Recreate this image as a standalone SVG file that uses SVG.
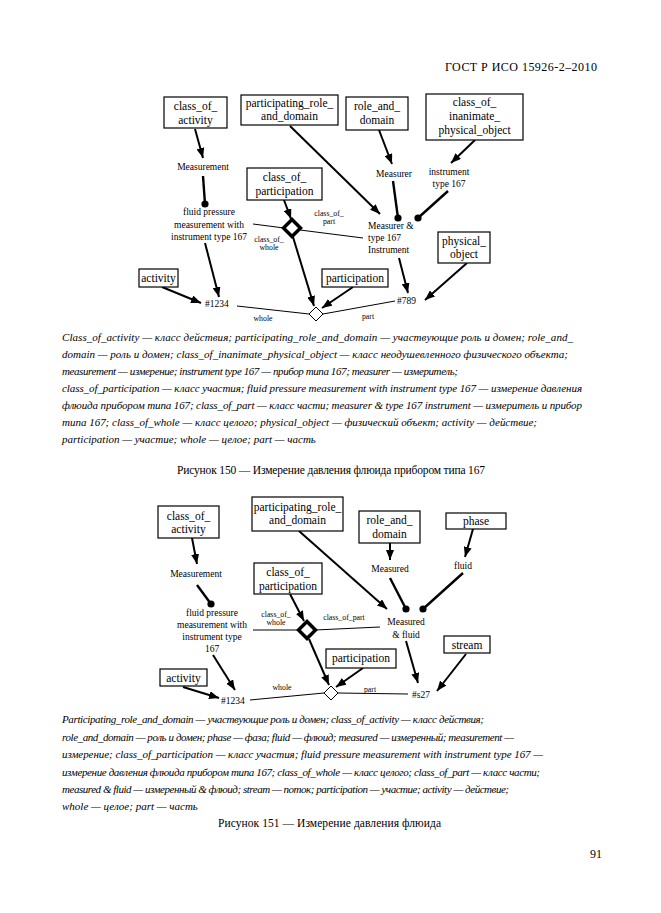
<svg xmlns="http://www.w3.org/2000/svg" width="661" height="913" viewBox="0 0 661 913">
<style>
text{font-family:"Liberation Serif","Times New Roman",serif;fill:#000}
.bt{font-size:11.5px;text-anchor:middle}
.nt{font-size:9.5px;text-anchor:middle}
.nl{font-size:9.5px}
.sm{font-size:7.8px;text-anchor:middle}
.cap{font-size:11px;font-style:italic}
.fig{font-size:11.5px}
.box{fill:#fff;stroke:#000;stroke-width:1.2}
.ar{stroke:#000;stroke-width:2;fill:none;marker-end:url(#ah)}
.dl{stroke:#000;stroke-width:2.4;fill:none}
.th{stroke:#000;stroke-width:1;fill:none}
.bd{fill:#fff;stroke:#000;stroke-width:3.5}
.sd{fill:#fff;stroke:#000;stroke-width:1}
</style>
<defs>
<marker id="ah" markerUnits="userSpaceOnUse" markerWidth="10" markerHeight="8" refX="10" refY="4" orient="auto">
<path d="M0,0 L10,4 L0,8 z" fill="#000"/>
</marker>
</defs>
<rect width="661" height="913" fill="#fff"/>
<text x="445" y="71" font-size="12" textLength="152">ГОСТ Р ИСО 15926-2–2010</text>

<!-- Figure 150 -->
<g id="f1-connectors">
<line class="ar" x1="195" y1="129" x2="203" y2="158"/>
<line class="dl" x1="203" y1="176" x2="205" y2="204"/><circle cx="205" cy="204" r="3.6"/>
<line class="ar" x1="290" y1="126" x2="380" y2="214"/>
<line class="ar" x1="379" y1="130" x2="392" y2="164"/>
<line class="dl" x1="393" y1="181" x2="398" y2="218"/><circle cx="398" cy="218" r="3.6"/>
<line class="ar" x1="475" y1="140" x2="451" y2="163"/>
<line class="dl" x1="448" y1="191" x2="418" y2="218"/><circle cx="418" cy="218" r="3.6"/>
<line class="ar" x1="284" y1="200" x2="291" y2="219"/>
<line class="ar" x1="293" y1="237" x2="314" y2="306"/>
<line class="th" x1="253" y1="224" x2="284" y2="228"/>
<line class="th" x1="300" y1="230" x2="363" y2="238"/>
<line class="ar" x1="205" y1="243" x2="219" y2="297"/>
<line class="ar" x1="162" y1="287" x2="201" y2="303"/>
<line class="th" x1="237" y1="306" x2="309" y2="314"/>
<line class="ar" x1="353" y1="287" x2="322" y2="308"/>
<line class="ar" x1="399" y1="258" x2="408" y2="293"/>
<line class="ar" x1="467" y1="263" x2="425" y2="300"/>
<line class="th" x1="323" y1="314" x2="395" y2="301"/>
</g>
<g id="f1-coa"><rect class="box" x="164" y="97" width="63" height="31"/><text class="bt" x="195.5" y="110">class_of_</text><text class="bt" x="195.5" y="124">activity</text></g>
<g id="f1-prd"><rect class="box" x="241" y="95" width="97" height="30"/><text class="bt" x="289.5" y="107">participating_role_</text><text class="bt" x="289.5" y="120">and_domain</text></g>
<g id="f1-rad"><rect class="box" x="346" y="97" width="62" height="33"/><text class="bt" x="377" y="110">role_and_</text><text class="bt" x="377" y="124">domain</text></g>
<g id="f1-coipo"><rect class="box" x="426" y="94" width="97" height="46"/><text class="bt" x="474.5" y="106">class_of_</text><text class="bt" x="474.5" y="120">inanimate_</text><text class="bt" x="474.5" y="134">physical_object</text></g>
<g id="f1-measurement"><text class="nt" x="203" y="170">Measurement</text></g>
<g id="f1-cop"><rect class="box" x="247" y="168" width="75" height="32"/><text class="bt" x="284.5" y="181">class_of_</text><text class="bt" x="284.5" y="195">participation</text></g>
<g id="f1-measurer"><text class="nt" x="394" y="177">Measurer</text></g>
<g id="f1-instr"><text class="nt" x="449" y="175">instrument</text><text class="nt" x="449" y="187">type 167</text></g>
<g id="f1-fpm"><text class="nt" x="209" y="215">fluid pressure</text><text class="nt" x="209" y="228">measurement with</text><text class="nt" x="209" y="240">instrument type 167</text></g>
<g id="f1-cowp"><rect class="bd" x="286" y="222" width="12" height="12" transform="rotate(45 292 228)"/><text class="sm" x="329" y="216">class_of_</text><text class="sm" x="329" y="224">part</text><text class="sm" x="269" y="242">class_of_</text><text class="sm" x="269" y="250">whole</text></g>
<g id="f1-mti"><text class="nl" x="368" y="229">Measurer &amp;</text><text class="nl" x="368" y="241">type 167</text><text class="nl" x="368" y="253">Instrument</text></g>
<g id="f1-po"><rect class="box" x="438" y="232" width="52" height="31"/><text class="bt" x="464" y="245">physical_</text><text class="bt" x="464" y="258">object</text></g>
<g id="f1-activity"><rect class="box" x="139" y="269" width="39" height="18"/><text class="bt" x="158.5" y="282">activity</text></g>
<g id="f1-participation"><rect class="box" x="322" y="269" width="66" height="18"/><text class="bt" x="355" y="282">participation</text></g>
<g id="f1-1234"><text class="nl" x="205" y="307">#1234</text></g>
<g id="f1-789"><text class="nl" x="397" y="304">#789</text></g>
<g id="f1-wp"><polygon class="sd" points="316,307 323,314 316,321 309,314"/><text class="sm" x="263" y="321">whole</text><text class="sm" x="368" y="319">part</text></g>

<g id="cap150">
<text class="cap" x="62" y="341" textLength="511">Class_of_activity — класс действия; participating_role_and_domain — участвующие роль и домен; role_and_</text>
<text class="cap" x="62" y="358" textLength="506">domain — роль и домен; class_of_inanimate_physical_object — класс неодушевленного физического объекта;</text>
<text class="cap" x="62" y="375" textLength="396">measurement — измерение; instrument type 167 — прибор типа 167; measurer — измеритель;</text>
<text class="cap" x="62" y="392" textLength="520">class_of_participation — класс участия; fluid pressure measurement with instrument type 167 — измерение давления</text>
<text class="cap" x="62" y="409" textLength="520">флюида прибором типа 167; class_of_part — класс части; measurer &amp; type 167 instrument — измеритель и прибор</text>
<text class="cap" x="62" y="426" textLength="475">типа 167; class_of_whole — класс целого; physical_object — физический объект; activity — действие;</text>
<text class="cap" x="62" y="443">participation — участие; whole — целое; part — часть</text>
<text class="fig" x="177" y="474" textLength="308">Рисунок 150 — Измерение давления флюида прибором типа 167</text>
</g>

<!-- Figure 151 -->
<g id="f2-connectors">
<line class="ar" x1="192" y1="538" x2="197" y2="564"/>
<line class="dl" x1="197" y1="585" x2="211" y2="604"/><circle cx="211" cy="604" r="3.6"/>
<line class="ar" x1="299" y1="531" x2="387" y2="609"/>
<line class="ar" x1="390" y1="543" x2="390" y2="560"/>
<line class="dl" x1="390" y1="578" x2="406" y2="609"/><circle cx="406" cy="609" r="3.6"/>
<line class="ar" x1="473" y1="529" x2="465" y2="557"/>
<line class="dl" x1="463" y1="573" x2="423" y2="609"/><circle cx="423" cy="609" r="3.6"/>
<line class="ar" x1="290" y1="594" x2="304" y2="621"/>
<line class="th" x1="253" y1="630" x2="299" y2="630"/>
<line class="th" x1="315" y1="630" x2="380" y2="627"/>
<line class="ar" x1="309" y1="639" x2="329" y2="685"/>
<line class="ar" x1="213" y1="655" x2="235" y2="690"/>
<line class="ar" x1="183" y1="687" x2="219" y2="698"/>
<line class="th" x1="250" y1="700" x2="324" y2="693"/>
<line class="ar" x1="363" y1="668" x2="336" y2="687"/>
<line class="th" x1="338" y1="693" x2="408" y2="694"/>
<line class="ar" x1="406" y1="641" x2="418" y2="683"/>
<line class="ar" x1="466" y1="654" x2="437" y2="691"/>
</g>
<g id="f2-coa"><rect class="box" x="158" y="506" width="61" height="32"/><text class="bt" x="188.5" y="520">class_of_</text><text class="bt" x="188.5" y="533">activity</text></g>
<g id="f2-prd"><rect class="box" x="252" y="497" width="91" height="34"/><text class="bt" x="297.5" y="511">participating_role_</text><text class="bt" x="297.5" y="524">and_domain</text></g>
<g id="f2-rad"><rect class="box" x="359" y="511" width="61" height="32"/><text class="bt" x="389.5" y="524">role_and_</text><text class="bt" x="389.5" y="538">domain</text></g>
<g id="f2-phase"><rect class="box" x="446" y="513" width="60" height="16"/><text class="bt" x="476" y="525">phase</text></g>
<g id="f2-measurement"><text class="nt" x="196" y="577">Measurement</text></g>
<g id="f2-cop"><rect class="box" x="254" y="563" width="68" height="31"/><text class="bt" x="288" y="576">class_of_</text><text class="bt" x="288" y="590">participation</text></g>
<g id="f2-measured"><text class="nt" x="390" y="572">Measured</text></g>
<g id="f2-fluid"><text class="nt" x="463" y="569">fluid</text></g>
<g id="f2-fpm"><text class="nt" x="212" y="616">fluid pressure</text><text class="nt" x="212" y="628">measurement with</text><text class="nt" x="212" y="640">instrument type</text><text class="nt" x="212" y="652">167</text></g>
<g id="f2-cowp"><rect class="bd" x="301" y="624" width="12" height="12" transform="rotate(45 307 630)"/><text class="sm" x="276" y="617">class_of_</text><text class="sm" x="276" y="625">whole</text><text class="sm" x="344" y="620">class_of_part</text></g>
<g id="f2-mf"><text class="nt" x="406" y="625">Measured</text><text class="nt" x="406" y="638">&amp; fluid</text></g>
<g id="f2-participation"><rect class="box" x="326" y="649" width="70" height="19"/><text class="bt" x="361" y="662">participation</text></g>
<g id="f2-stream"><rect class="box" x="444" y="636" width="46" height="17"/><text class="bt" x="467" y="649">stream</text></g>
<g id="f2-activity"><rect class="box" x="160" y="669" width="47" height="17"/><text class="bt" x="183.5" y="682">activity</text></g>
<g id="f2-1234"><text class="nl" x="221" y="704">#1234</text></g>
<g id="f2-s27"><text class="nl" x="412" y="698">#s27</text></g>
<g id="f2-wp"><polygon class="sd" points="331,686 338,693 331,700 324,693"/><text class="sm" x="282" y="690">whole</text><text class="sm" x="370" y="692">part</text></g>

<g id="cap151">
<text class="cap" x="62" y="723" textLength="422">Participating_role_and_domain — участвующие роль и домен; class_of_activity — класс действия;</text>
<text class="cap" x="62" y="741" textLength="452">role_and_domain — роль и домен; phase — фаза; fluid — флюид; measured — измеренный; measurement —</text>
<text class="cap" x="62" y="758" textLength="481">измерение; class_of_participation — класс участия; fluid pressure measurement with instrument type 167 —</text>
<text class="cap" x="62" y="776" textLength="478">измерение давления флюида прибором типа 167; class_of_whole — класс целого; class_of_part — класс части;</text>
<text class="cap" x="62" y="793" textLength="447">measured &amp; fluid — измеренный &amp; флюид; stream — поток; participation — участие; activity — действие;</text>
<text class="cap" x="62" y="810">whole — целое; part — часть</text>
<text class="fig" x="218" y="827" textLength="223">Рисунок 151 — Измерение давления флюида</text>
</g>
<text x="590" y="858" font-size="12">91</text>
</svg>
